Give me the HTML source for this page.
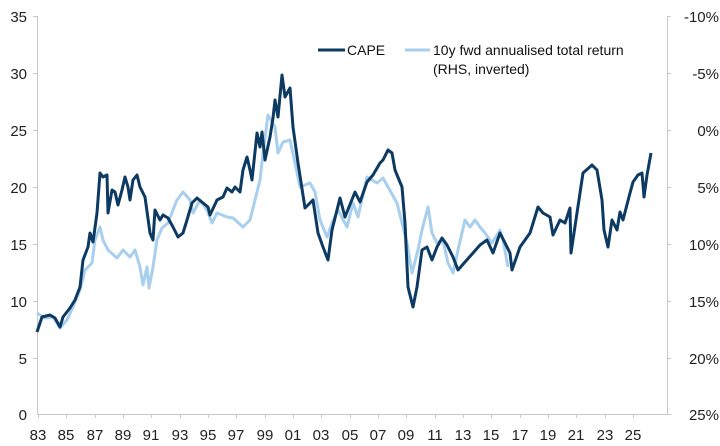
<!DOCTYPE html>
<html><head><meta charset="utf-8"><style>
body{margin:0;background:#fff;}
svg{display:block;font-family:"Liberation Sans",Arial,sans-serif;}
</style></head><body>
<svg width="720" height="446" viewBox="0 0 720 446">
<g stroke="#c8c8c8" stroke-width="1" fill="none">
<line x1="37.5" y1="16" x2="37.5" y2="415"/>
<line x1="37" y1="414.5" x2="667" y2="414.5"/>
<line x1="667.5" y1="16" x2="667.5" y2="415"/>
<path d="M33 16.5h4M33 73.5h4M33 130.5h4M33 187.5h4M33 244.5h4M33 301.5h4M33 358.5h4"/>
<path d="M667 16.5h4M667 73.5h4M667 130.5h4M667 187.5h4M667 244.5h4M667 301.5h4M667 358.5h4M667 414.5h4"/>
<path d="M38.5 414v4M66.5 414v4M95.5 414v4M123.5 414v4M151.5 414v4M180.5 414v4M208.5 414v4M236.5 414v4M265.5 414v4M293.5 414v4M321.5 414v4M350.5 414v4M378.5 414v4M406.5 414v4M435.5 414v4M463.5 414v4M491.5 414v4M520.5 414v4M548.5 414v4M576.5 414v4M605.5 414v4M633.5 414v4"/>
</g>
<g font-size="15" fill="#222" text-anchor="end">
<text x="27" y="22">35</text><text x="27" y="79">30</text><text x="27" y="136">25</text><text x="27" y="193">20</text><text x="27" y="250">15</text><text x="27" y="307">10</text><text x="27" y="364">5</text><text x="27" y="420">0</text>
</g>
<g font-size="15" fill="#222" text-anchor="end">
<text x="719" y="22">-10%</text><text x="719" y="79">-5%</text><text x="719" y="136">0%</text><text x="719" y="193">5%</text><text x="719" y="250">10%</text><text x="719" y="307">15%</text><text x="719" y="364">20%</text><text x="719" y="420">25%</text>
</g>
<g font-size="15" fill="#222" text-anchor="middle">
<text x="38" y="440">83</text><text x="66" y="440">85</text><text x="95" y="440">87</text><text x="123" y="440">89</text><text x="151" y="440">91</text><text x="180" y="440">93</text><text x="208" y="440">95</text><text x="236" y="440">97</text><text x="265" y="440">99</text><text x="293" y="440">01</text><text x="321" y="440">03</text><text x="350" y="440">05</text><text x="378" y="440">07</text><text x="406" y="440">09</text><text x="435" y="440">11</text><text x="463" y="440">13</text><text x="491" y="440">15</text><text x="520" y="440">17</text><text x="548" y="440">19</text><text x="576" y="440">21</text><text x="605" y="440">23</text><text x="633" y="440">25</text>
</g>
<polyline fill="none" stroke="#a9cfee" stroke-width="3" stroke-linejoin="round" points="37,313 45,318 53,317 60,328 67,320 73,307 80,290 85,270 92,263 95,240 100,227 103,240 108,250 117,258 123,250 130,257 135,250 140,267 143,285 147,267 149,288 153,267 157,240 162,228 168,223 173,210 177,200 183,192 190,200 193,213 200,200 207,210 212,223 217,213 227,217 233,218 243,227 250,220 255,200 260,180 263,153 268,115 275,127 278,153 283,142 290,140 295,163 300,187 310,183 315,192 320,220 327,237 332,223 338,210 347,227 353,203 358,217 367,177 377,183 383,178 388,187 397,203 407,243 412,273 418,250 422,230 428,207 432,233 437,243 443,240 448,263 453,273 458,250 465,220 470,227 475,220 480,227 485,233 492,243 500,230 503,240 508,267"/>
<polyline fill="none" stroke="#0d3a63" stroke-width="3" stroke-linejoin="round" points="37,332 42,317 50,315 55,318 60,327 63,317 70,308 75,300 80,287 83,260 88,247 90,233 93,242 97,213 100,173 103,177 107,175 108,213 112,190 115,192 118,205 122,190 125,177 128,187 130,200 133,180 137,175 140,187 145,197 150,233 153,240 155,210 160,220 163,215 168,218 173,227 178,237 183,233 187,220 192,203 197,198 203,203 208,207 210,215 217,200 223,197 227,188 232,192 235,187 240,192 243,170 247,157 250,170 252,180 257,133 260,147 262,132 265,160 270,137 273,118 275,100 278,117 282,75 285,97 290,88 293,127 298,163 305,208 313,200 318,233 323,247 328,260 332,230 340,198 345,217 355,192 360,202 367,182 373,175 380,163 383,160 388,150 392,153 395,170 402,187 405,223 408,287 413,307 417,287 422,250 427,247 432,260 437,247 442,238 447,245 453,257 458,270 465,262 473,253 480,245 487,240 493,253 500,233 510,253 512,270 520,247 530,233 538,207 543,213 550,217 553,235 560,220 565,223 570,208 571,253 577,213 583,173 592,165 597,170 602,200 604,230 608,247 612,220 617,230 620,212 623,220 630,193 633,182 638,175 642,173 644,197 647,175 651,153"/>
<line x1="318" y1="50" x2="345" y2="50" stroke="#0d3a63" stroke-width="3"/>
<line x1="405" y1="50" x2="430" y2="50" stroke="#a9cfee" stroke-width="3"/>
<g font-size="14" fill="#111">
<text x="347" y="55">CAPE</text>
<text x="433" y="55">10y fwd annualised total return</text>
<text x="433" y="74">(RHS, inverted)</text>
</g>
</svg>
</body></html>
